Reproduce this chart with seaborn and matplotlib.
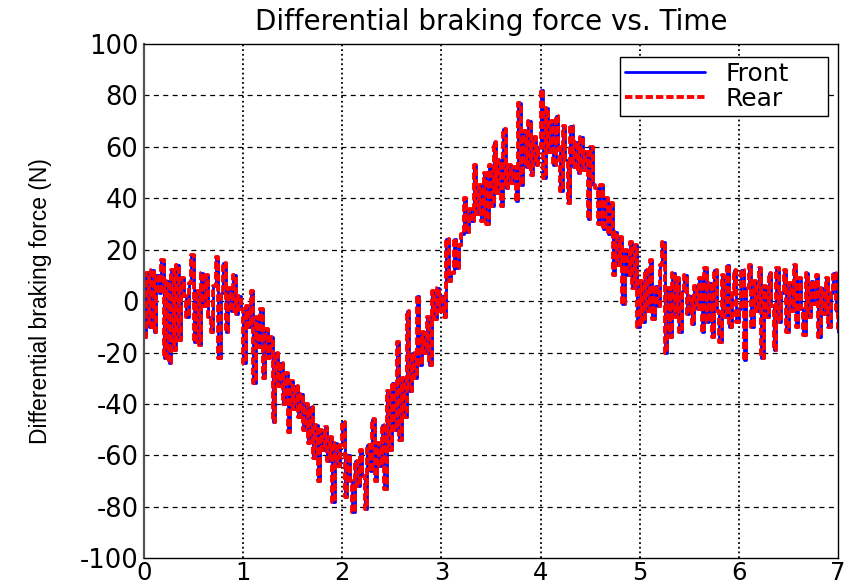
import numpy as np
import pandas as pd
import matplotlib
matplotlib.use("Agg")
import matplotlib.pyplot as plt
import seaborn as sns

# Sample time step (s) and differential braking force samples (N), one row per second
time_step = 0.025

force_0s = [-14, 11, -10, 12, -12, 10, 3, 16, -22, 8,
            -24, 12, -19, 14, -15, 9, 2, -6, 7, 18,
            -16, 4, -17, 11, -2, 10, -6, -12, 6, 17,
            -22, 3, 15, -12, 5, -4, 10, -5, 2, -3]
force_1s = [-24, -2, -10, 4, -32, -6, -18, -3, -30, -11,
            -22, -14, -47, -20, -33, -24, -40, -28, -51, -31,
            -42, -33, -45, -36, -50, -40, -55, -41, -61, -48,
            -70, -50, -58, -49, -62, -53, -78, -55, -64, -56]
force_2s = [-47, -76, -60, -70, -82, -62, -72, -58, -68, -81,
            -56, -66, -46, -70, -55, -64, -48, -73, -35, -58,
            -32, -50, -16, -54, -30, -45, -4, -35, -20, -30,
            2, -25, -12, -20, -6, -25, 4, -7, 5, -4]
force_3s = [2, -6, 24, 8, 11, 24, 13, 22, 26, 40,
            27, 36, 31, 53, 34, 45, 31, 50, 30, 53,
            37, 62, 42, 55, 37, 67, 44, 53, 46, 52,
            39, 77, 45, 66, 52, 70, 49, 64, 53, 60]
force_4s = [82, 48, 75, 58, 70, 53, 72, 60, 43, 68,
            55, 38, 68, 52, 62, 50, 64, 51, 58, 32,
            60, 45, 44, 30, 45, 28, 40, 26, 38, 10,
            27, 14, 25, -1, 20, 10, 23, 5, 22, -10]
force_5s = [8, -8, 12, -4, 16, -7, 6, -2, 14, 23,
            -20, 5, -14, 11, -6, 9, -12, 4, 10, -5,
            2, -9, 6, -3, 9, -12, 13, -8, 7, -14,
            12, -4, -16, 10, -6, 14, -10, 3, 12, -8]
force_6s = [-3, 12, -23, 5, 14, -10, 8, -4, 13, -22,
            6, -6, 11, -2, -19, 13, -8, 3, 12, -12,
            7, -4, 14, -10, 9, -3, -13, 11, -6, 8,
            -1, 10, -14, 5, -5, 9, -10, 3, 11, -4, -12]

front_force = force_0s + force_1s + force_2s + force_3s + force_4s + force_5s + force_6s
# Front and rear wheels receive the same differential command
rear_force = list(front_force)
time_s = np.arange(len(front_force)) * time_step

x_ticks = [0, 1, 2, 3, 4, 5, 6, 7]
y_ticks = [-100, -80, -60, -40, -20, 0, 20, 40, 60, 80, 100]

df = pd.DataFrame({"Time": time_s, "Front": front_force, "Rear": rear_force})

sns.set_style("white")
plt.rcParams["font.family"] = ["DejaVu Sans"]
plt.rcParams["text.color"] = "black"
plt.rcParams["axes.labelcolor"] = "black"

fig = plt.figure(figsize=(8.57, 5.87), dpi=100)
ax = fig.add_axes([0.168, 0.049, 0.810, 0.876])

sns.lineplot(data=df, x="Time", y="Front", ax=ax, color="blue", linewidth=2.0,
             estimator=None, sort=False, label="Front", drawstyle="steps-post")
sns.lineplot(data=df, x="Time", y="Rear", ax=ax, color="red", linewidth=2.8,
             estimator=None, sort=False, label="Rear", drawstyle="steps-post")
ax.lines[-1].set_linestyle((0, (1.9, 0.75)))

ax.set_xlim(0, 7)
ax.set_ylim(-100, 100)
ax.set_xticks(x_ticks)
ax.set_yticks(y_ticks)
ax.set_xticklabels([str(v) for v in x_ticks])
ax.set_yticklabels([str(v) for v in y_ticks])

ax.grid(False)
for v in y_ticks[1:-1]:
    ax.axhline(v, color="black", linewidth=0.9, linestyle=(0, (4, 3.5)), zorder=0)
for v in x_ticks[1:-1]:
    ax.axvline(v, color="black", linewidth=1.3, linestyle=(0, (1, 1.6)), zorder=0)

for sp in ax.spines.values():
    sp.set_visible(True)
    sp.set_color("black")
    sp.set_linewidth(1.0)
ax.spines["left"].set_color("#555555")
ax.spines["left"].set_linewidth(1.6)

ax.tick_params(axis="y", direction="in", length=4, width=0.8,
               labelsize=18.5, colors="black", pad=4)
ax.tick_params(axis="x", direction="in", length=4, width=0.8,
               labelsize=17.5, colors="black", pad=2)

ax.set_xlabel("")
ax.set_ylabel("Differential braking force (N)", fontsize=16.5, color="black",
              family=["Liberation Sans"], labelpad=20)
ax.set_title("Differential braking force vs. Time", fontsize=20, pad=10,
             color="black")

leg = ax.legend(loc="upper left", bbox_to_anchor=(0.686, 0.862, 0.300, 0.113),
                mode="expand", borderaxespad=0, fontsize=18, frameon=True,
                fancybox=False, edgecolor="black", framealpha=1,
                handlelength=3.2, labelspacing=0.05, handletextpad=0.8,
                borderpad=0.2)
leg.get_frame().set_linewidth(1.0)
for txt in leg.get_texts():
    txt.set_color("black")

fig.savefig("out.png", dpi=100)
